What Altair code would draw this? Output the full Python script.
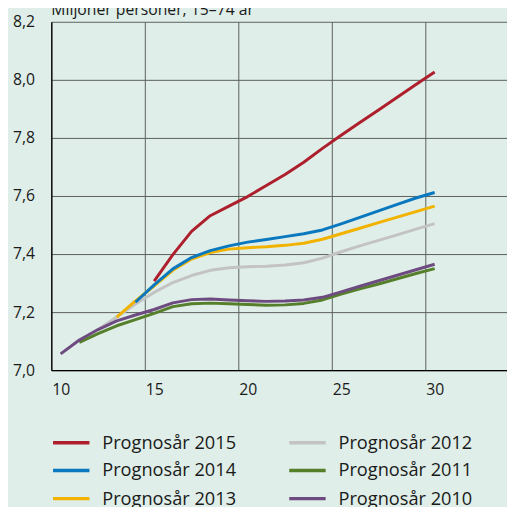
import altair as alt
import pandas as pd

title_text = "Miljoner personer, 15–74 år"

series_names = ["Prognosår 2015", "Prognosår 2014", "Prognosår 2013",
                "Prognosår 2012", "Prognosår 2011", "Prognosår 2010"]
series_colors = ["#ad1f2c", "#0a78be", "#f2b300", "#c3c3c3", "#567f2b", "#6d4b80"]

# start year and values for each forecast
start_2015 = 15
vals_2015 = [7.307, 7.398, 7.478, 7.532, 7.565, 7.598, 7.636, 7.674, 7.716, 7.764,
             7.809, 7.853, 7.896, 7.940, 7.984, 8.027]
start_2014 = 14
vals_2014 = [7.234, 7.294, 7.349, 7.388, 7.412, 7.428, 7.441, 7.450, 7.460, 7.470,
             7.483, 7.504, 7.526, 7.549, 7.571, 7.593, 7.612]
start_2013 = 13
vals_2013 = [7.183, 7.239, 7.290, 7.344, 7.383, 7.405, 7.417, 7.422, 7.425, 7.430,
             7.437, 7.451, 7.470, 7.489, 7.508, 7.527, 7.546, 7.565]
start_2012 = 12
vals_2012 = [7.140, 7.183, 7.228, 7.268, 7.302, 7.326, 7.344, 7.353, 7.356, 7.358,
             7.362, 7.370, 7.386, 7.408, 7.428, 7.447, 7.466, 7.486, 7.505]
start_2011 = 11
vals_2011 = [7.096, 7.126, 7.153, 7.174, 7.196, 7.219, 7.229, 7.231, 7.229, 7.226,
             7.224, 7.225, 7.230, 7.242, 7.262, 7.280, 7.297, 7.315, 7.333, 7.350]
start_2010 = 10
vals_2010 = [7.056, 7.104, 7.140, 7.170, 7.190, 7.209, 7.232, 7.243, 7.245, 7.242,
             7.239, 7.237, 7.238, 7.242, 7.251, 7.270, 7.289, 7.308, 7.327, 7.346, 7.365]

x_ticks = [10, 15, 20, 25, 30]
y_ticks = [7.0, 7.2, 7.4, 7.6, 7.8, 8.0, 8.2]

# drawing order (later = on top)
draw_order = [
    ("Prognosår 2012", start_2012, vals_2012),
    ("Prognosår 2011", start_2011, vals_2011),
    ("Prognosår 2010", start_2010, vals_2010),
    ("Prognosår 2013", start_2013, vals_2013),
    ("Prognosår 2014", start_2014, vals_2014),
    ("Prognosår 2015", start_2015, vals_2015),
]
rows = []
for name, start, vals in draw_order:
    for i, v in enumerate(vals):
        rows.append({"serie": name, "x": start + i, "y": v})
df = pd.DataFrame(rows)

W, H = 463, 354
px_per_unit = 19.0
x_min = x_ticks[0] - 0.5
x_max = x_min + W / px_per_unit

FONT = "Open Sans"
BG = "#dfeee8"

lines = alt.Chart(df).mark_line(strokeWidth=3, strokeJoin="round", strokeCap="butt").encode(
    x=alt.X("x:Q",
            scale=alt.Scale(domain=[x_min, x_max], nice=False, zero=False),
            axis=alt.Axis(values=[t - 0.5 for t in x_ticks],
                          labelExpr="format(datum.value + 0.5, 'd')",
                          labelOffset=px_per_unit / 2,
                          labelFlush=False, ticks=False, title=None,
                          labelPadding=12, labelFontSize=16, labelFont=FONT,
                          labelColor="#1a1a1a",
                          grid=True, gridColor="#5b5f5c", gridWidth=1,
                          domainColor="#000000", domainWidth=1.3)),
    y=alt.Y("y:Q",
            scale=alt.Scale(domain=[7.0, 8.2], nice=False, zero=False),
            axis=alt.Axis(values=y_ticks,
                          labelExpr="replace(format(datum.value, '.1f'), '.', ',')",
                          ticks=False, title=None, labelPadding=17,
                          labelFontSize=16, labelFont=FONT, labelColor="#1a1a1a",
                          grid=True, gridColor="#5b5f5c", gridWidth=1,
                          domainColor="#000000", domainWidth=1.3)),
    color=alt.Color("serie:N",
                    scale=alt.Scale(domain=series_names, range=series_colors),
                    legend=alt.Legend(orient="none", legendX=9.25, legendY=416.5,
                                      columns=2, title=None,
                                      symbolType="M-2,0H2", symbolSize=342.25,
                                      symbolStrokeWidth=3.5,
                                      labelFontSize=18.5, labelFont=FONT,
                                      labelColor="#1a1a1a", labelOffset=20.5,
                                      columnPadding=46, rowPadding=7.5,
                                      labelLimit=300)),
)

title_df = pd.DataFrame({"t": [title_text]})
title = alt.Chart(title_df).mark_text(
    align="left", baseline="alphabetic", fontSize=16, font=FONT, color="#1a1a1a"
).encode(x=alt.value(0), y=alt.value(-7), text="t:N")

chart = alt.layer(lines, title).properties(
    width=W, height=H,
    background=BG,
    autosize=alt.AutoSizeParams(type="none"),
    padding={"left": 44, "top": 10, "right": 0, "bottom": 135},
).configure_view(stroke=None)

chart.save("out.html", embed_options={"renderer": "svg", "actions": False})
